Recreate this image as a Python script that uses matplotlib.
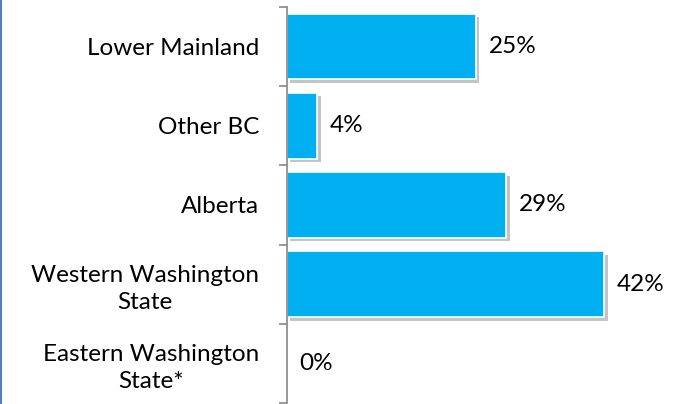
import numpy as np
import matplotlib
matplotlib.use("Agg")
import matplotlib.pyplot as plt
import matplotlib.patheffects as pe
from matplotlib.lines import Line2D

regions = ["Lower Mainland", "Other BC", "Alberta",
           "Western Washington\nState", "Eastern Washington\nState*"]
shares = [25, 4, 29, 42, 0]

plt.rcParams['font.family'] = ['Lato', 'DejaVu Sans']

fig = plt.figure(figsize=(6.89, 4.04), dpi=100)
ax = fig.add_axes([287 / 689, 1 / 404, 1 - 287 / 689, 396 / 404])

pos = np.arange(len(regions))
bars = ax.barh(pos, shares, height=0.83, color="#00B0F0", edgecolor="white", linewidth=1.2)
for b in bars:
    b.set_path_effects([pe.SimplePatchShadow(offset=(2.5, -2.5), shadow_rgbFace="#8a8a8a", alpha=0.5),
                        pe.Normal()])

for p, v in zip(pos, shares):
    ax.annotate(f"{v}%", (v, p), xytext=(9, 0), textcoords="offset points",
                va="center", ha="left", fontsize=17.5, color="black")

ax.set_ylim(len(regions) - 0.5, -0.5)
ax.set_xlim(0, 53.2)
ax.set_yticks(pos)
ax.set_yticklabels(regions, fontsize=17.5)
for lab in ax.get_yticklabels():
    lab.set_multialignment("center")
    lab.set_linespacing(1.35)
ax.set_yticks(np.arange(-0.5, len(regions)), minor=True)
ax.tick_params(axis="y", which="major", length=0, pad=20)
ax.tick_params(axis="y", which="minor", length=6, width=1.2, color="#868686", direction="out")
ax.set_xticks([])
for s in ["top", "right", "bottom"]:
    ax.spines[s].set_visible(False)
ax.spines["left"].set_color("#868686")
ax.spines["left"].set_linewidth(1.2)

fig.add_artist(Line2D([0.0015, 0.0015], [0, 1], transform=fig.transFigure, color="#4f81bd", lw=1.5))

fig.savefig("out.png", dpi=100)
